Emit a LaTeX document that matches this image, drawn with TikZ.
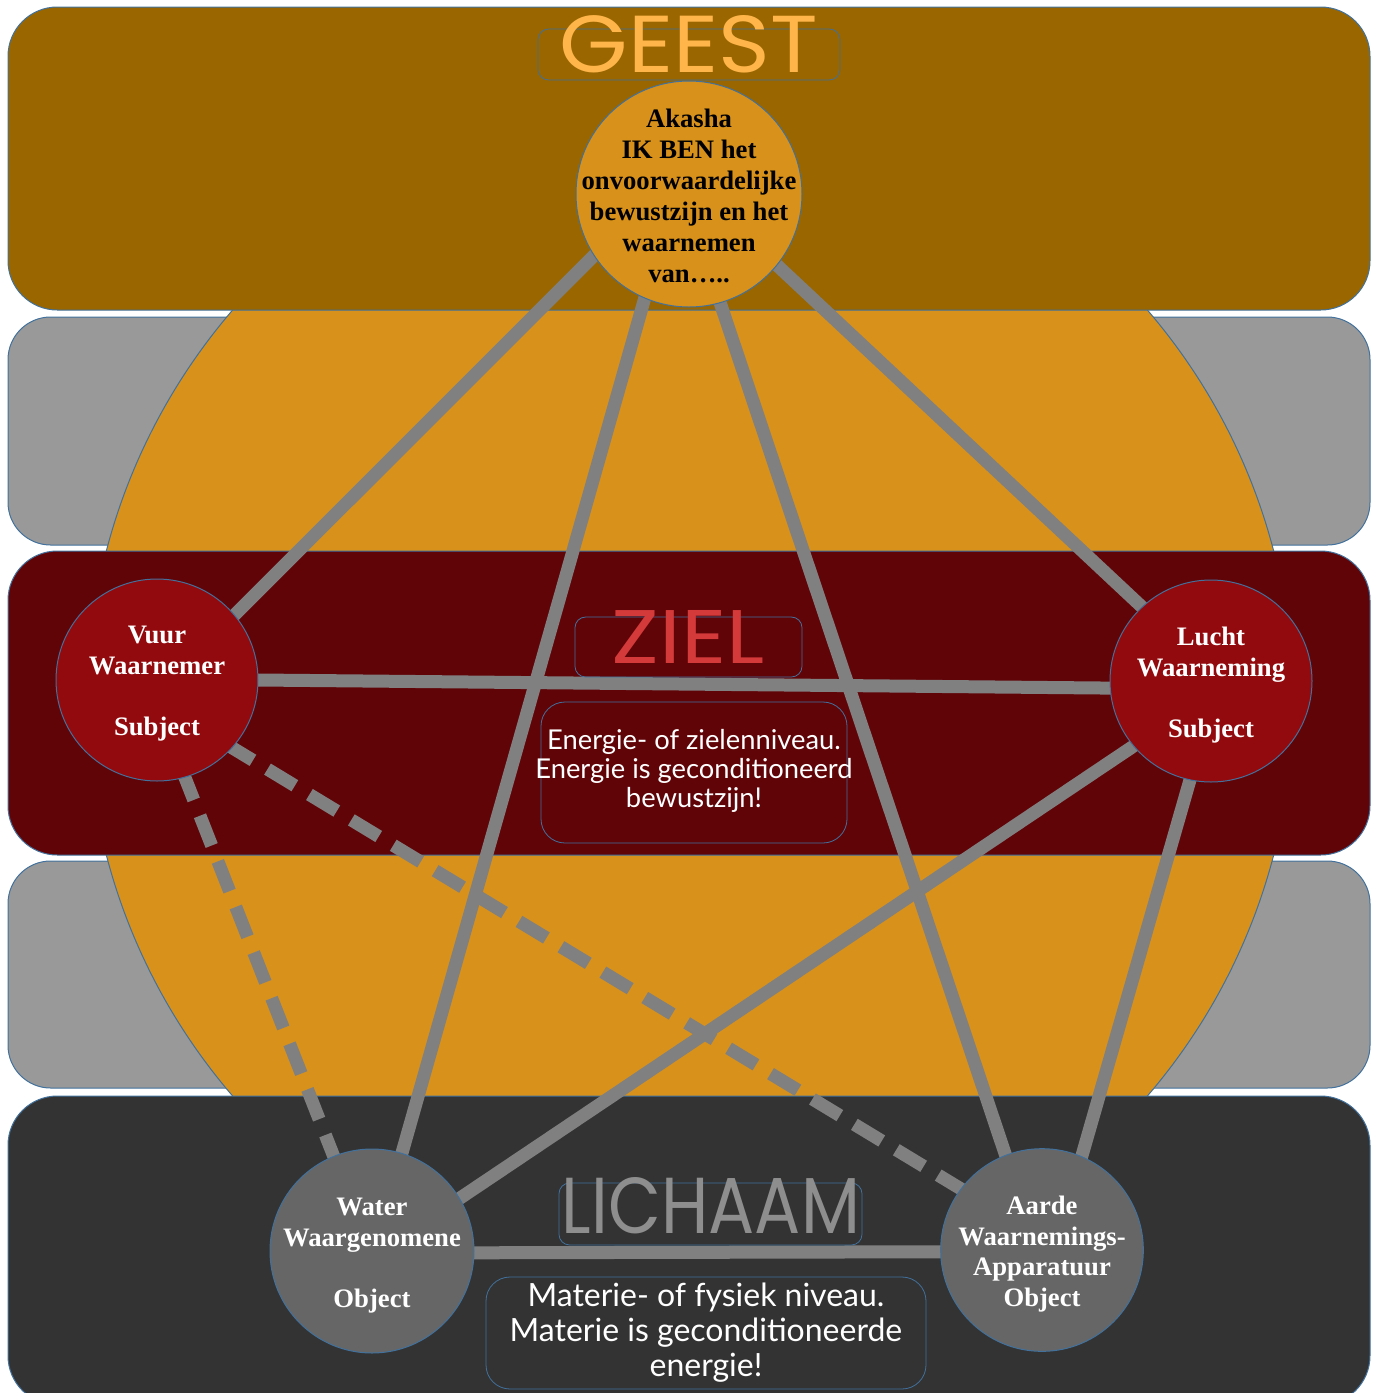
\documentclass[tikz,border=0pt]{standalone}
\usepackage{fontspec}
\setmainfont{Liberation Serif}
\newfontfamily\handfont{Lato}
\newfontfamily\titlefont{Poppins}
\usepackage{graphicx}
\definecolor{geest}{HTML}{996600}
\definecolor{bandgray}{HTML}{999999}
\definecolor{orangec}{HTML}{D8911A}
\definecolor{zielband}{HTML}{600408}
\definecolor{vuurred}{HTML}{930A0E}
\definecolor{lichaamband}{HTML}{333333}
\definecolor{watergray}{HTML}{666666}
\definecolor{linegray}{HTML}{808080}
\definecolor{edgeblue}{HTML}{41719C}
\definecolor{geesttext}{HTML}{FFB54A}
\definecolor{zieltext}{HTML}{D43A3A}
\definecolor{lichaamtext}{HTML}{8E8E8E}
\pgfdeclarelayer{bg}
\pgfdeclarelayer{lines}
\pgfsetlayers{bg,lines,main}
\tikzset{
  band/.style={draw=edgeblue, line width=0.75pt, rounded corners=37pt},
  grayband/.style={draw=edgeblue, line width=0.75pt, rounded corners=32pt, fill=bandgray},
  labelbox/.style={draw=edgeblue, line width=0.6pt, rounded corners=8pt},
  circ/.style={circle, draw=edgeblue, line width=0.75pt, inner sep=0pt},
  circtext/.style={align=center, inner sep=0pt, font=\bfseries\fontsize{20}{23}\selectfont},
  bodytext/.style={text=white, align=center, inner sep=0pt},
  titletext/.style={anchor=base, inner sep=0pt},
  conn/.style={draw=linegray, line width=9.75pt, shorten <=-6pt, shorten >=-6pt},
  dconn/.style={conn, dash pattern=on 24pt off 12.75pt}
}
\begin{document}
\begin{tikzpicture}[x=0.75pt,y=-0.75pt]
\useasboundingbox (0,0) rectangle (1375,1393);
\clip (0,0) rectangle (1375,1393);
\begin{pgfonlayer}{bg}
\draw[grayband] (8,317) rectangle (1370,545);
\draw[grayband] (8,861) rectangle (1370,1088);
\draw[draw=edgeblue, line width=0.75pt, fill=orangec] (690,703) circle[radius=603];
\draw[band, fill=geest] (8,7) rectangle (1370,310);
\draw[band, fill=zielband] (8,551) rectangle (1370,855);
\draw[band, fill=lichaamband] (8,1096) rectangle (1370,1405);
\end{pgfonlayer}

% title boxes
\draw[labelbox] (538,29) rectangle (840,80);
\node[titletext, text=geesttext] (geesttitle) at (689,72) {\resizebox{193.5pt}{42.75pt}{\titlefont GEEST}};
\draw[labelbox] (575,617) rectangle (802,677);
\node[titletext, text=zieltext] (zieltitle) at (688,663) {\resizebox{114.75pt}{39.75pt}{\titlefont ZIEL}};
\draw[labelbox] (559,1183) rectangle (862,1245);
\node[titletext, text=lichaamtext] (lichaamtitle) at (711,1233) {\resizebox{223.5pt}{42pt}{\titlefont LICHAAM}};

% text boxes
\draw[labelbox, rounded corners=18pt] (541,702) rectangle (847,843);
\node[bodytext, font=\handfont\fontsize{20.5}{22}\selectfont] (energie) at (694,771)
  {Energie- of zielenniveau.\\Energie is geconditioneerd\\bewustzijn!};
\draw[labelbox, rounded corners=18pt] (486,1277) rectangle (926,1389);
\node[bodytext, font=\handfont\fontsize{24}{26.25}\selectfont] (materie) at (706,1333)
  {Materie- of fysiek niveau.\\Materie is geconditioneerde\\energie!};

% circles
\node[circ, fill=orangec, minimum size=169.5pt] (akasha) at (689,194) {};
\node[circ, fill=vuurred, minimum size=151.5pt] (vuur) at (157,680) {};
\node[circ, fill=vuurred, minimum size=151.5pt] (lucht) at (1211,681) {};
\node[circ, fill=watergray, minimum size=153pt] (water) at (372,1251) {};
\node[circ, fill=watergray, minimum size=152pt] (aarde) at (1042,1250) {};

% circle texts
\node[circtext, text=black, font=\bfseries\fontsize{20}{23.25}\selectfont] (akashatext) at (689,196)
  {Akasha\\IK BEN het\\onvoorwaardelijke\\bewustzijn en het\\waarnemen\\van…..};
\node[circtext, text=white] (vuurtext) at (157,684)
  {Vuur\\Waarnemer\\\mbox{}\\Subject};
\node[circtext, text=white] (luchttext) at (1211,685)
  {Lucht\\Waarneming\\\mbox{}\\Subject};
\node[circtext, text=white] (watertext) at (372,1256)
  {Water\\Waargenomene\\\mbox{}\\Object};
\node[circtext, text=white] (aardetext) at (1042,1254)
  {Aarde\\Waarnemings-\\Apparatuur\\Object};

% connectors
\begin{pgfonlayer}{lines}
\draw[conn] (akasha.213) -- (vuur.40);
\draw[conn] (akasha.247.5) -- (water.73.4);
\draw[conn] (akasha.286) -- (aarde.111.7);
\draw[conn] (akasha.-39.5) -- (lucht.133.8);
\draw[conn] (vuur.0) -- (lucht.184);
\draw[conn] (lucht.220.9) -- (water.31);
\draw[conn] (lucht.258.3) -- (aarde.67.6);
\draw[conn] (water.-1) -- (aarde.181.5);
\draw[dconn] (vuur.-42) -- (aarde.143.8);
\draw[dconn] (vuur.-74.8) -- (water.112.5);
\end{pgfonlayer}
\end{tikzpicture}
\end{document}
